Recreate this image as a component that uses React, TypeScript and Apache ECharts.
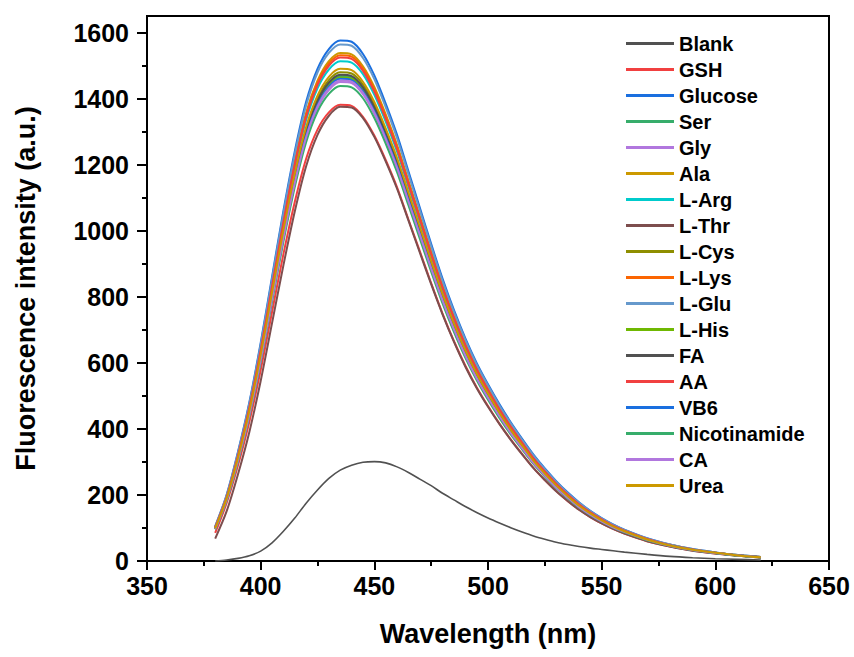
import React, { useEffect, useRef } from "react";
import * as echarts from "echarts";

// ---------- data ----------
const wavelengths = [380,385,390,395,400,405,410,415,420,425,430,435,440,445,450,455,460,465,470,475,480,485,490,495,500,505,510,515,520,525,530,535,540,545,550,555,560,570,580,590,600,610,620];

const blank = [0,3,8,16,30,55,90,130,175,215,250,275,290,299,301,297,285,268,248,228,205,185,165,147,130,115,101,88,76,66,57,50,44,39,35,31,27,20,14,10,7,5,3];
const gsh = [85,175,289,421,578,754,929,1087,1218,1306,1358,1381,1378,1345,1288,1214,1131,1034,938,841,749,666,592,526,469,416,368,324,282,245,212,182,156,133,114,97,83,60,44,32,23,16,11];
const glucose = [105,200,330,480,660,860,1060,1240,1390,1490,1550,1576,1572,1535,1470,1385,1290,1180,1070,960,855,760,675,600,535,475,420,370,322,280,242,208,178,152,130,111,95,69,50,36,26,18,12];
const ser = [98,186,307,447,615,801,987,1155,1295,1388,1444,1468,1464,1430,1369,1290,1202,1099,997,894,797,708,629,559,498,443,391,345,300,261,225,194,166,142,121,103,89,64,47,34,24,17,11];
const gly = [97,184,304,442,607,791,975,1141,1279,1371,1426,1450,1447,1413,1353,1274,1187,1086,985,883,787,699,621,552,492,437,386,340,296,258,223,191,164,140,120,102,87,63,46,33,24,17,11];
const ala = [102,195,322,468,644,839,1034,1210,1357,1454,1513,1538,1534,1498,1435,1352,1259,1152,1044,937,834,742,659,586,522,464,410,361,314,273,236,203,174,148,127,108,93,67,49,35,25,18,12];
const lArg = [101,192,317,461,634,826,1018,1191,1335,1431,1488,1513,1509,1474,1411,1330,1239,1133,1027,922,821,730,648,576,514,456,403,355,309,269,232,200,171,146,125,107,91,66,48,35,25,17,12];
const lThr = [68,150,262,390,545,720,895,1058,1195,1290,1348,1375,1373,1341,1284,1210,1127,1031,934,838,747,664,589,524,467,415,367,323,281,245,211,182,155,133,114,97,83,60,44,31,23,16,10];
const lCys = [99,188,310,451,620,808,996,1165,1305,1399,1456,1480,1476,1442,1381,1301,1212,1108,1005,902,803,714,634,564,502,446,394,348,302,263,227,195,167,143,122,104,89,65,47,34,24,17,11];
const lLys = [102,194,321,466,641,835,1030,1205,1350,1448,1506,1531,1527,1491,1428,1346,1253,1146,1040,933,831,738,656,583,520,461,408,359,313,272,235,202,173,148,126,108,92,67,49,35,25,17,12];
const lGlu = [104,198,327,476,655,853,1052,1231,1379,1479,1538,1564,1560,1523,1459,1374,1280,1171,1062,953,848,754,670,595,531,471,417,367,320,278,240,206,177,151,129,110,94,68,50,36,26,18,12];
const lHis = [98,186,307,446,613,799,985,1152,1291,1384,1440,1464,1460,1426,1366,1287,1198,1096,994,892,794,706,627,557,497,441,390,344,299,260,225,193,165,141,121,103,88,64,46,33,24,17,11];
const fa = [98,187,308,448,617,803,990,1158,1298,1392,1448,1472,1468,1434,1373,1294,1205,1102,999,897,799,710,631,560,500,444,392,346,301,262,226,194,166,142,121,104,89,64,47,34,24,17,11];
const aa = [102,193,319,464,638,832,1025,1199,1344,1441,1499,1524,1520,1484,1421,1339,1247,1141,1035,928,827,735,653,580,517,459,406,358,311,271,234,201,172,147,126,107,92,67,48,35,25,17,12];
const vb6 = [97,185,306,445,611,797,982,1149,1288,1380,1436,1460,1456,1422,1362,1283,1195,1093,991,889,792,704,625,556,496,440,389,343,298,259,224,193,165,141,120,103,88,64,46,33,24,17,11];
const nicotinamide = [96,183,301,438,602,785,967,1132,1268,1360,1414,1438,1434,1401,1341,1264,1177,1077,976,876,780,694,616,548,488,433,383,338,294,256,221,190,162,139,119,101,87,63,46,33,24,16,11];
const ca = [97,185,305,443,609,794,979,1145,1283,1376,1431,1455,1451,1417,1357,1279,1191,1089,988,886,789,702,623,554,494,439,388,342,297,259,223,192,164,140,120,102,88,64,46,33,24,17,11];
const urea = [99,189,312,454,624,813,1002,1172,1314,1409,1466,1490,1486,1451,1390,1310,1220,1116,1012,908,808,719,638,567,506,449,397,350,304,265,229,197,168,144,123,105,90,65,47,34,25,17,11];

const seriesNames = ["Blank","GSH","Glucose","Ser","Gly","Ala","L-Arg","L-Thr","L-Cys","L-Lys","L-Glu","L-His","FA","AA","VB6","Nicotinamide","CA","Urea"];
const seriesValues = [blank,gsh,glucose,ser,gly,ala,lArg,lThr,lCys,lLys,lGlu,lHis,fa,aa,vb6,nicotinamide,ca,urea];

const yTickValues = [0,200,400,600,800,1000,1200,1400,1600];
const yMinorTickValues = [100,300,500,700,900,1100,1300,1500];

// ---------- styles ----------
const palette = ["#515151","#F14040","#1A6FDF","#37AD6B","#B177DE","#CC9900","#00CBCC","#7D4E4E","#8E8E00","#FB6501","#6699CC","#6FB802","#515151","#F14040","#1A6FDF","#37AD6B","#B177DE","#CC9900"];
const FONT = 'Arial, "Liberation Sans", Helvetica, sans-serif';

export default function App() {
  const ref = useRef<HTMLDivElement>(null);
  useEffect(() => {
    if (!ref.current) return;
    const chart = echarts.init(ref.current, null, { renderer: "svg" });
    const series = seriesNames.map((name, i) => ({
      name,
      type: "line",
      data: wavelengths.map((w, j) => [w, seriesValues[i][j]]),
      showSymbol: false,
      symbol: "none",
      smooth: 0.3,
      color: palette[i],
      lineStyle: { width: i === 0 ? 1.6 : 2, color: palette[i] },
      emphasis: { disabled: true },
      silent: true,
      z: i === 0 ? 3 : 2,
    }));
    chart.setOption({
      animation: false,
      backgroundColor: "#fff",
      grid: { left: 147, right: 25, top: 16, bottom: 96, show: true, borderColor: "#000", borderWidth: 2, backgroundColor: "transparent" },
      legend: {
        orient: "vertical",
        left: 621,
        top: 28,
        itemWidth: 48,
        itemHeight: 3,
        itemGap: 5,
        icon: "rect",
        selectedMode: false,
        textStyle: { fontFamily: FONT, fontSize: 20, fontWeight: "bold", color: "#000", lineHeight: 21 },
        data: seriesNames,
      },
      xAxis: {
        type: "value",
        min: 350,
        max: 650,
        interval: 50,
        name: "Wavelength (nm)",
        nameLocation: "middle",
        nameGap: 59,
        nameTextStyle: { fontFamily: FONT, fontSize: 27, fontWeight: "bold", color: "#000" },
        axisLine: { show: true, lineStyle: { color: "#000", width: 2 } },
        axisTick: { show: true, length: 9, lineStyle: { color: "#000", width: 2 } },
        minorTick: { show: true, splitNumber: 2, length: 5, lineStyle: { color: "#000", width: 2 } },
        axisLabel: { fontFamily: FONT, fontSize: 25, fontWeight: "bold", color: "#000", margin: 12, formatter: (v: number) => String(v) },
        splitLine: { show: false },
      },
      yAxis: [
        {
          type: "value",
          min: 0,
          max: 1650,
          name: "Fluorescence intensity (a.u.)",
          nameLocation: "middle",
          nameGap: 108,
          nameRotate: 90,
          nameTextStyle: { fontFamily: FONT, fontSize: 27, fontWeight: "bold", color: "#000" },
          axisLine: { show: true, lineStyle: { color: "#000", width: 2 } },
          axisTick: { show: true, length: 10, customValues: yTickValues, lineStyle: { color: "#000", width: 2 } },
          axisLabel: { fontFamily: FONT, fontSize: 25, fontWeight: "bold", color: "#000", margin: 18, customValues: yTickValues, formatter: (v: number) => String(v) },
          splitLine: { show: false },
        },
        {
          type: "value",
          min: 0,
          max: 1650,
          position: "left",
          axisLine: { show: false },
          axisTick: { show: true, length: 5, customValues: yMinorTickValues, lineStyle: { color: "#000", width: 2 } },
          axisLabel: { show: false },
          splitLine: { show: false },
        },
      ],
      series,
    });
    return () => chart.dispose();
  }, []);
  return <div ref={ref} style={{ position: "fixed", left: 0, top: 0, width: 854, height: 657, background: "#fff" }} />;
}
